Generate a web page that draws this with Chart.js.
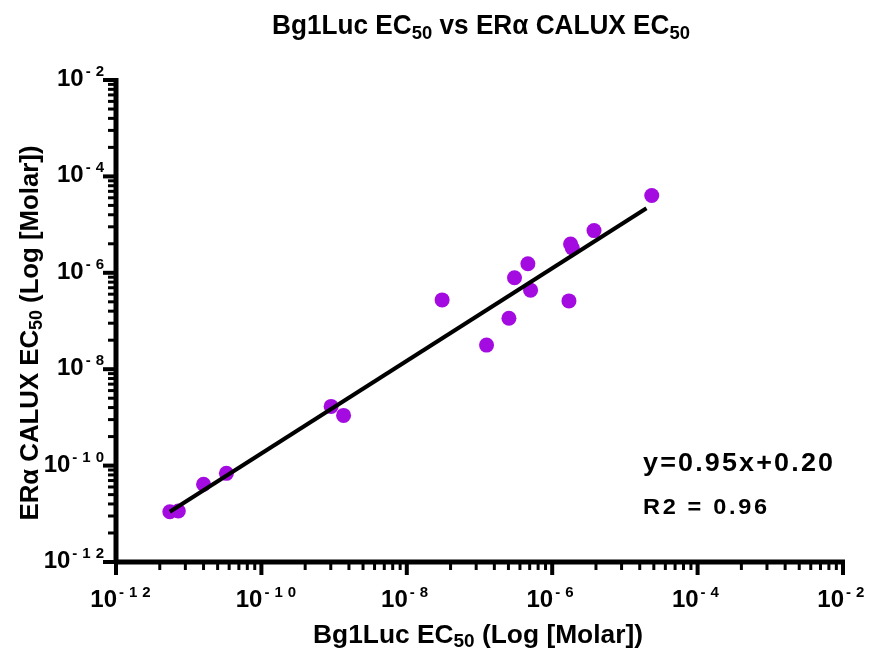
<!DOCTYPE html>
<html><head><meta charset="utf-8">
<script src="https://cdn.jsdelivr.net/npm/chart.js@4"></script>
<style>html,body{margin:0;padding:0;background:#fff}#wrap{width:871px;height:658px;position:relative}canvas{display:block}</style>
</head><body><div id="wrap"><canvas id="c" width="871" height="658"></canvas></div>
<script>
// Data (molar EC50 values)
const bg1lucEC50 = [5.5e-12, 7.2e-12, 1.6e-11, 3.3e-11, 9.1e-10, 1.35e-9, 3.06e-8, 1.25e-7, 2.54e-7, 3.03e-7, 4.63e-7, 5.04e-7, 1.70e-6, 1.79e-6, 1.89e-6, 3.76e-6, 2.34e-5];
const caluxEC50  = [1.1e-11, 1.14e-11, 4.1e-11, 6.9e-11, 1.69e-9, 1.1e-9, 2.74e-7, 3.16e-8, 1.14e-7, 7.87e-7, 1.54e-6, 4.36e-7, 2.61e-7, 3.95e-6, 3.27e-6, 7.5e-6, 4.02e-5];
const fitLineX = [5.5e-12, 1.98e-5];
const fitLineY = [1.1e-11, 2.19e-5];
const majorTickExponents = [-12, -10, -8, -6, -4, -2];
const equationText = 'y=0.95x+0.20';
const r2Text = 'R2 = 0.96';

const FONT = '"Liberation Sans", Arial, sans-serif';
const PURPLE = '#A30BE0';

function setFont(ctx, size){ ctx.font = 'bold ' + size + 'px ' + FONT; }
function spacedWidth(ctx, str, sp){
  if (!sp) return ctx.measureText(str).width;
  let w = 0, n = 0;
  for (const ch of str){ w += ctx.measureText(ch).width; n++; }
  return w + Math.max(0, n - 1) * sp;
}
function drawSpaced(ctx, str, x, y, sp){
  if (!sp){ ctx.fillText(str, x, y); return x + ctx.measureText(str).width; }
  for (const ch of str){ ctx.fillText(ch, x, y); x += ctx.measureText(ch).width + sp; }
  return x - sp;
}
function partsWidth(ctx, parts){
  let w = 0;
  for (const p of parts){ setFont(ctx, p.size); w += (p.gap || 0) + spacedWidth(ctx, p.t, p.sp || 0); }
  return w;
}
function drawRich(ctx, parts, x, y, align, targetW, rotate){
  const total = partsWidth(ctx, parts);
  const sx = targetW ? targetW / total : 1;
  ctx.save();
  ctx.translate(x, y);
  if (rotate) ctx.rotate(-Math.PI / 2);
  ctx.scale(sx, 1);
  ctx.fillStyle = '#000';
  ctx.textBaseline = 'alphabetic';
  ctx.textAlign = 'left';
  let cx = align === 'center' ? -total / 2 : align === 'right' ? -total : 0;
  for (const p of parts){
    setFont(ctx, p.size);
    cx += (p.gap || 0);
    cx = drawSpaced(ctx, p.t, cx, p.dy || 0, p.sp || 0);
  }
  ctx.restore();
}

const axesPlugin = {
  id: 'prismAxes',
  afterDraw(chart){
    const ctx = chart.ctx;
    const xs = chart.scales.x, ys = chart.scales.y;
    const x0 = xs.getPixelForValue(Math.pow(10, majorTickExponents[0]));
    const x1 = xs.getPixelForValue(Math.pow(10, majorTickExponents[majorTickExponents.length - 1]));
    const y0 = ys.getPixelForValue(Math.pow(10, majorTickExponents[0]));
    const y1 = ys.getPixelForValue(Math.pow(10, majorTickExponents[majorTickExponents.length - 1]));
    ctx.save();
    ctx.strokeStyle = '#000';
    ctx.lineCap = 'butt';
    ctx.lineWidth = 5;
    ctx.beginPath(); ctx.moveTo(x0, y1 - 2); ctx.lineTo(x0, y0 + 2); ctx.stroke();
    ctx.beginPath(); ctx.moveTo(x0 - 2, y0); ctx.lineTo(x1 + 2, y0); ctx.stroke();
    for (let i = 0; i < majorTickExponents.length; i++){
      const e = majorTickExponents[i];
      const v = Math.pow(10, e);
      const px = xs.getPixelForValue(v), py = ys.getPixelForValue(v);
      ctx.lineWidth = 4;
      ctx.beginPath(); ctx.moveTo(px, y0); ctx.lineTo(px, y0 + 13); ctx.stroke();
      ctx.beginPath(); ctx.moveTo(x0, py); ctx.lineTo(x0 - 13, py); ctx.stroke();
      if (i < majorTickExponents.length - 1){
        ctx.lineWidth = 3;
        for (let k = 2; k <= 9; k++){
          const mv = v * k * k;
          const mx = xs.getPixelForValue(mv), my = ys.getPixelForValue(mv);
          ctx.beginPath(); ctx.moveTo(mx, y0); ctx.lineTo(mx, y0 + 8); ctx.stroke();
          ctx.beginPath(); ctx.moveTo(x0, my); ctx.lineTo(x0 - 8, my); ctx.stroke();
        }
      }
      const sup = '-' + String(-e);
      setFont(ctx, 24);
      const w10 = ctx.measureText('10').width;
      const lbl = [{t:'10', size:24}, {t:sup, size:15, dy:-10, sp:5, gap:2}];
      drawRich(ctx, lbl, px + 1 - w10, y0 + 45, 'left');
      drawRich(ctx, lbl, 104, py + 6, 'right');
    }
    drawRich(ctx, [{t:'Bg1Luc EC', size:27}, {t:'50', size:19, dy:5}, {t:' vs ERα CALUX EC', size:27}, {t:'50', size:19, dy:5}], 481, 34, 'center', 418);
    drawRich(ctx, [{t:'Bg1Luc EC', size:25}, {t:'50', size:18, dy:4}, {t:' (Log [Molar])', size:25}], 478, 643, 'center', 330);
    drawRich(ctx, [{t:'ERα CALUX EC', size:26}, {t:'50', size:18, dy:4}, {t:' (Log [Molar])', size:26}], 38, 333, 'center', 375, true);
    drawRich(ctx, [{t:equationText, size:25, sp:2}], 643, 471, 'left', 190);
    drawRich(ctx, [{t:r2Text, size:22, sp:2.5}], 643, 514, 'left', 124);
    ctx.restore();
  }
};

const scatterPts = bg1lucEC50.map((x, i) => ({x, y: caluxEC50[i]}));
const linePts = fitLineX.map((x, i) => ({x, y: fitLineY[i]}));

new Chart(document.getElementById('c'), {
  type: 'scatter',
  data: {
    datasets: [
      { label: 'fit', data: linePts, showLine: true, borderColor: '#000', borderWidth: 4, pointRadius: 0, order: 0, clip: false },
      { label: 'EC50', data: scatterPts, backgroundColor: PURPLE, borderWidth: 0, pointRadius: 7.5, pointHoverRadius: 7.5, order: 1, clip: false }
    ]
  },
  options: {
    responsive: false,
    animation: false,
    devicePixelRatio: 1,
    layout: { padding: { left: 116, top: 80, right: 28, bottom: 96 } },
    plugins: { legend: { display: false }, tooltip: { enabled: false }, title: { display: false } },
    events: [],
    scales: {
      x: { type: 'logarithmic', min: 1e-12, max: 1e-2, display: false },
      y: { type: 'logarithmic', min: 1e-12, max: 1e-2, display: false }
    }
  },
  plugins: [axesPlugin]
});
</script>
</body></html>
